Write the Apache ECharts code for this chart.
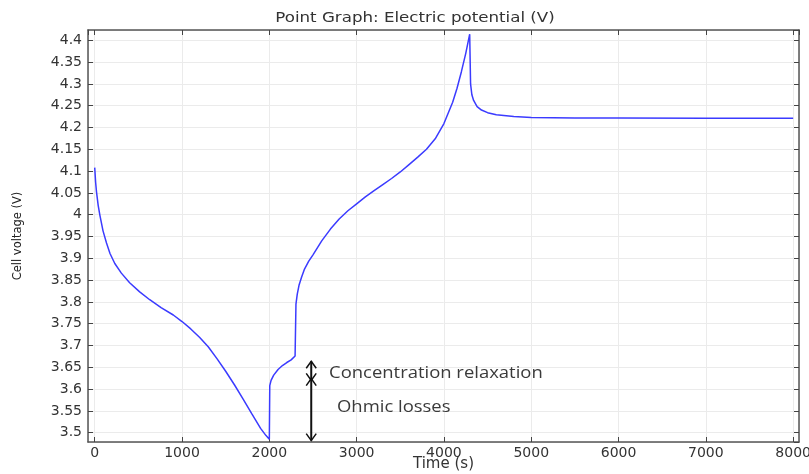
<!DOCTYPE html>
<html>
<head>
<meta charset="utf-8">
<script src="https://cdn.jsdelivr.net/npm/echarts@6/dist/echarts.min.js"></script>
<style>
html,body{margin:0;padding:0;background:#fff;}
#chart{width:809px;height:474px;}
</style>
</head>
<body>
<div id="chart"></div>
<script>
// ---- data ----
const timeS = [
  0, 10, 20, 40, 60, 95, 135, 175, 230, 305, 400, 515, 630, 760, 900,
  1000, 1100, 1200, 1300, 1400, 1500, 1600, 1700, 1800, 1900, 1960, 2000,
  2005, 2020, 2050, 2100, 2150, 2200, 2250, 2295,
  2305, 2320, 2340, 2370, 2400, 2450, 2500, 2600, 2700, 2800, 2900,
  3000, 3100, 3200, 3300, 3400, 3500, 3600, 3700, 3800, 3900,
  4000, 4100, 4150, 4200, 4250, 4295,
  4305, 4320, 4340, 4380, 4430, 4500, 4600, 4800, 5000, 5500, 6000, 7000, 8000
];
const voltage = [
  4.108, 4.075, 4.053, 4.021, 3.998, 3.963, 3.935, 3.911, 3.888, 3.866, 3.844, 3.823, 3.805, 3.787, 3.770,
  3.755, 3.738, 3.719, 3.697, 3.670, 3.641, 3.610, 3.577, 3.543, 3.510, 3.494, 3.485,
  3.608, 3.620, 3.632, 3.645, 3.654, 3.661, 3.667, 3.676,
  3.795, 3.818, 3.838, 3.857, 3.874, 3.893, 3.908, 3.940, 3.967, 3.990, 4.009,
  4.025, 4.041, 4.055, 4.069, 4.083, 4.098, 4.115, 4.132, 4.150, 4.174,
  4.209, 4.258, 4.290, 4.328, 4.370, 4.414,
  4.300, 4.275, 4.262, 4.248, 4.240, 4.234, 4.229, 4.225, 4.223, 4.222, 4.222, 4.221, 4.221
];
const titleText = 'Point Graph: Electric potential (V)';
const xName = 'Time (s)';
const yName = 'Cell voltage (V)';
// arrows: [time, topVoltage, bottomVoltage]
const arrowDefs = [
  [2480, 3.664, 3.620],
  [2480, 3.624, 3.482]
];
// annotation texts: [time, voltage] of text left-middle
const annotLabels = ['Concentration relaxation', 'Ohmic losses'];
const annotPos = [[2684, 3.637], [2775, 3.558]];

const xMin = -77, xMax = 8067, xStep = 1000;
const yMin = 3.4787, yMax = 4.4236, yStep = 0.05;

// ---- chart ----
const chart = echarts.init(document.getElementById('chart'), null, {renderer: 'canvas'});
const FONT = 'DejaVu Sans';
const axisLineStyle = {color: '#555', width: 1.5};
const tickStyle = {color: '#444', width: 1};

function baseAxis(extra) {
  return Object.assign({
    type: 'value',
    axisLine: {show: true, onZero: false, lineStyle: axisLineStyle},
    axisTick: {show: true, inside: true, length: 5, lineStyle: tickStyle},
    splitLine: {show: false},
  }, extra);
}

const option = {
  animation: false,
  backgroundColor: '#fff',
  grid: {left: 88, right: 10, top: 30, bottom: 32, containLabel: false, outerBoundsMode: 'none'},
  graphic: [{
    type: 'text', x: 415, y: 18, scaleX: 1.19,
    style: {text: titleText, font: '14px "DejaVu Sans"', fill: '#333', textAlign: 'center', textVerticalAlign: 'middle'}
  }],
  xAxis: [
    baseAxis({
      position: 'bottom', min: xMin, max: xMax, minInterval: xStep, maxInterval: xStep, splitNumber: 8,
      axisLabel: {margin: 4, fontSize: 14, fontFamily: FONT, color: '#333', showMinLabel: false, showMaxLabel: false,
        formatter: v => String(Math.round(v))},
      splitLine: {show: true, lineStyle: {color: '#ebebeb', width: 1}},
      name: xName, nameLocation: 'middle', nameGap: 15, nameMoveOverlap: false,
      nameTextStyle: {fontSize: 15, fontFamily: FONT, color: '#333'}
    }),
    baseAxis({
      position: 'top', min: xMin, max: xMax, minInterval: xStep, maxInterval: xStep, splitNumber: 8,
      axisLabel: {show: false}
    })
  ],
  yAxis: [
    baseAxis({
      position: 'left', min: yMin, max: yMax, minInterval: yStep, maxInterval: yStep, splitNumber: 19,
      axisLabel: {margin: 6, fontSize: 14, fontFamily: FONT, color: '#333', showMinLabel: false, showMaxLabel: false},
      splitLine: {show: true, lineStyle: {color: '#ebebeb', width: 1}},
      name: yName, nameLocation: 'middle', nameGap: 64, nameMoveOverlap: false,
      nameTextStyle: {fontSize: 11.5, fontFamily: FONT, color: '#222'}
    }),
    baseAxis({
      position: 'right', min: yMin, max: yMax, minInterval: yStep, maxInterval: yStep, splitNumber: 19,
      axisLabel: {show: false}
    })
  ],
  series: [
    {
      type: 'line',
      data: timeS.map((t, i) => [t, voltage[i]]),
      showSymbol: false,
      symbol: 'none',
      smooth: false,
      lineStyle: {color: '#3b3bff', width: 1.5},
      z: 3
    },
    {
      type: 'custom',
      data: arrowDefs,
      z: 4,
      renderItem: function (params, api) {
        const p1 = api.coord([api.value(0), api.value(1)]);
        const p2 = api.coord([api.value(0), api.value(2)]);
        const x = p1[0], w = 5, h = 7;
        const st = {stroke: '#111', lineWidth: 2, fill: null};
        return {
          type: 'group',
          children: [
            {type: 'line', shape: {x1: x, y1: p1[1], x2: x, y2: p2[1]}, style: st},
            {type: 'polyline', shape: {points: [[x - w, p1[1] + h], [x, p1[1]], [x + w, p1[1] + h]]}, style: {stroke: '#111', lineWidth: 1.5, fill: null}},
            {type: 'polyline', shape: {points: [[x - w, p2[1] - h], [x, p2[1]], [x + w, p2[1] - h]]}, style: {stroke: '#111', lineWidth: 1.5, fill: null}}
          ]
        };
      }
    },
    {
      type: 'custom',
      data: annotPos.map((p, i) => [p[0], p[1], i]),
      z: 4,
      renderItem: function (params, api) {
        const p = api.coord([api.value(0), api.value(1)]);
        return {
          type: 'text', x: p[0], y: p[1], scaleX: 1.085,
          style: {text: annotLabels[api.value(2)], font: '17px "Open Sans"', fill: '#3a3a3a', textAlign: 'left', textVerticalAlign: 'middle'}
        };
      }
    }
  ]
};
chart.setOption(option);
</script>
</body>
</html>
